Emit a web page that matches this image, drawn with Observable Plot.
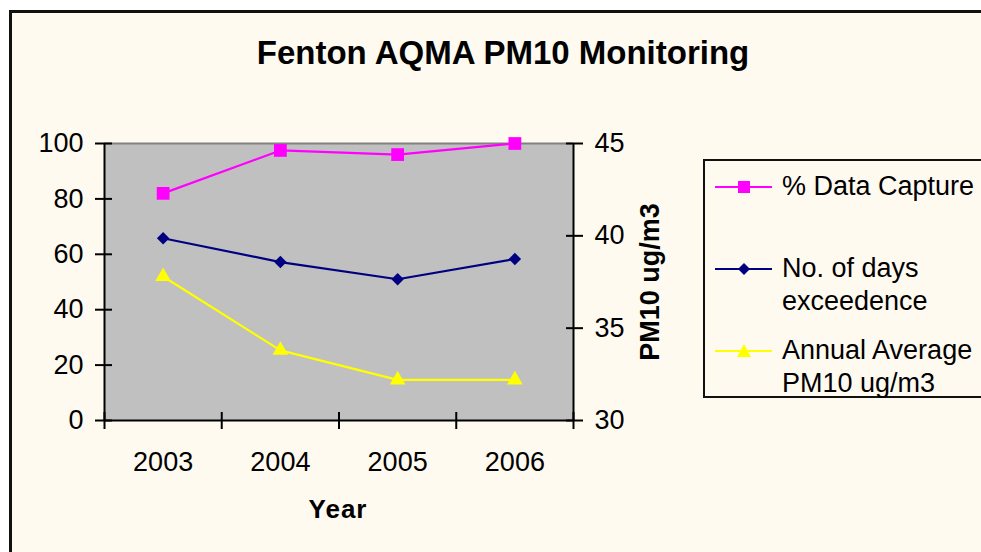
<!DOCTYPE html>
<html><head><meta charset="utf-8">
<script src="https://cdn.jsdelivr.net/npm/d3@7"></script>
<script src="https://cdn.jsdelivr.net/npm/@observablehq/plot@0.6"></script>
<style>
body{margin:0;background:#fff;font-family:"Liberation Sans",Arial,sans-serif;}
#wrap{position:relative;width:981px;height:552px;overflow:hidden;background:#fff;}
#panel{position:absolute;left:9px;top:10px;width:1000px;height:600px;border:3px solid #111;background:#FFFAF0;box-sizing:border-box;}
#chart{position:absolute;left:0;top:0;}
#title{position:absolute;left:0;width:1006px;top:34px;text-align:center;font-weight:bold;font-size:33px;color:#000;}
#xlabel{position:absolute;left:238px;width:200px;top:494px;text-align:center;font-weight:bold;font-size:26px;letter-spacing:1px;}
#ylabel2{position:absolute;left:650px;top:282px;transform:translate(-50%,-50%) rotate(-90deg);font-weight:bold;font-size:27px;white-space:nowrap;}
#legend{position:absolute;left:703px;top:159px;width:320px;height:239px;border:2px solid #111;box-sizing:border-box;}
.item{position:absolute;left:10px;font-size:27px;line-height:33px;color:#000;}
.item svg{position:absolute;left:0;top:0;overflow:visible;}
.item span{position:absolute;left:67px;top:0;white-space:nowrap;}
</style></head>
<body>
<div id="wrap">
  <div id="panel"></div>
  <div id="chart"></div>
  <div id="title">Fenton AQMA PM10 Monitoring</div>
  <div id="xlabel">Year</div>
  <div id="ylabel2">PM10 ug/m3</div>
  <div id="legend"></div>
</div>
<script>
const years = [2003, 2004, 2005, 2006];
const dataCapture = [82, 97.5, 96, 100];
const daysExceedence = [65.8, 57.2, 51, 58.3];
const annualAverage = [37.8, 33.8, 32.2, 32.2];
const leftTicks = [0, 20, 40, 60, 80, 100];
const rightTicks = [30, 35, 40, 45];
const leftDomain = [0, 100];
const rightDomain = [30, 45];
const seriesNames = ["% Data Capture", "No. of days\nexceedence", "Annual Average\nPM10 ug/m3"];
const seriesColors = ["#FF00FF", "#000080", "#FFFF00"];

const toLeft = v => leftDomain[0] + (v - rightDomain[0]) / (rightDomain[1] - rightDomain[0]) * (leftDomain[1] - leftDomain[0]);
const edges = [...years.map(y => y - 0.5), years[years.length - 1] + 0.5];
const rows = years.map((y, i) => ({year: y, cap: dataCapture[i], days: daysExceedence[i], avg: toLeft(annualAverage[i])}));
const rightScaled = rightTicks.map(toLeft);

const chart = Plot.plot({
  width: 981, height: 552,
  marginLeft: 104, marginRight: 408, marginTop: 143, marginBottom: 132,
  style: {background: "transparent", fontFamily: "Liberation Sans, Arial, sans-serif", fontSize: "27px", color: "#000"},
  x: {type: "linear", domain: [edges[0], edges[edges.length - 1]], axis: null},
  y: {domain: leftDomain, axis: null},
  marks: [
    Plot.frame({fill: "#C0C0C0", stroke: "none"}),
    Plot.ruleY([leftDomain[1]], {stroke: "#808080", strokeWidth: 2}),
    Plot.ruleY([leftDomain[0]], {stroke: "#000", strokeWidth: 2}),
    Plot.ruleX([edges[0], edges[edges.length - 1]], {stroke: "#000", strokeWidth: 2}),
    Plot.axisY({anchor: "left", ticks: leftTicks, tickSize: 17, dx: 8, fill: "none", stroke: "#000", strokeWidth: 2, label: null}),
    Plot.axisY({anchor: "left", ticks: leftTicks, tickSize: 0, tickPadding: 21, fill: "#000", label: null, fontSize: 27}),
    Plot.axisY({anchor: "right", ticks: rightScaled, tickSize: 17, dx: -8, fill: "none", stroke: "#000", strokeWidth: 2, label: null}),
    Plot.axisY({anchor: "right", ticks: rightScaled, tickSize: 0, tickPadding: 21, fill: "#000", label: null, fontSize: 27,
      tickFormat: d => String(rightTicks[rightScaled.indexOf(d)])}),
    Plot.axisX({anchor: "bottom", ticks: edges, tickSize: 17, dy: -8, fill: "none", stroke: "#000", strokeWidth: 2, label: null}),
    Plot.axisX({anchor: "bottom", ticks: years, tickSize: 0, tickPadding: 31, fill: "#000", label: null, fontSize: 27, tickFormat: d => String(d)}),
    Plot.line(rows, {x: "year", y: "cap", stroke: seriesColors[0], strokeWidth: 2.2}),
    Plot.line(rows, {x: "year", y: "days", stroke: seriesColors[1], strokeWidth: 2.2}),
    Plot.line(rows, {x: "year", y: "avg", stroke: seriesColors[2], strokeWidth: 2.2}),
    Plot.dot(rows, {x: "year", y: "cap", symbol: "square", fill: seriesColors[0], r: 7.2}),
    Plot.dot(rows, {x: "year", y: "days", symbol: "diamond2", fill: seriesColors[1], stroke: "none", r: 5.6}),
    Plot.dot(rows, {x: "year", y: "avg", symbol: "triangle", fill: seriesColors[2], r: 5.8})
  ]
});
document.getElementById("chart").appendChild(chart);

const legendTops = [9, 91, 173];
const symbolPaths = [
  "M-6,-6H6V6H-6Z",
  "M0,-6L6,0L0,6L-6,0Z",
  "M0,-7L7,6H-7Z"
];
const legend = document.getElementById("legend");
seriesNames.forEach((name, i) => {
  const item = document.createElement("div");
  item.className = "item";
  item.style.top = legendTops[i] + "px";
  item.innerHTML = `<svg width="60" height="33"><line x1="0" x2="57" y1="17" y2="17" stroke="${seriesColors[i]}" stroke-width="2.2"/><path transform="translate(29,17)" d="${symbolPaths[i]}" fill="${seriesColors[i]}"/></svg><span>${name.replace("\n", "<br>")}</span>`;
  legend.appendChild(item);
});
</script>
</body></html>
